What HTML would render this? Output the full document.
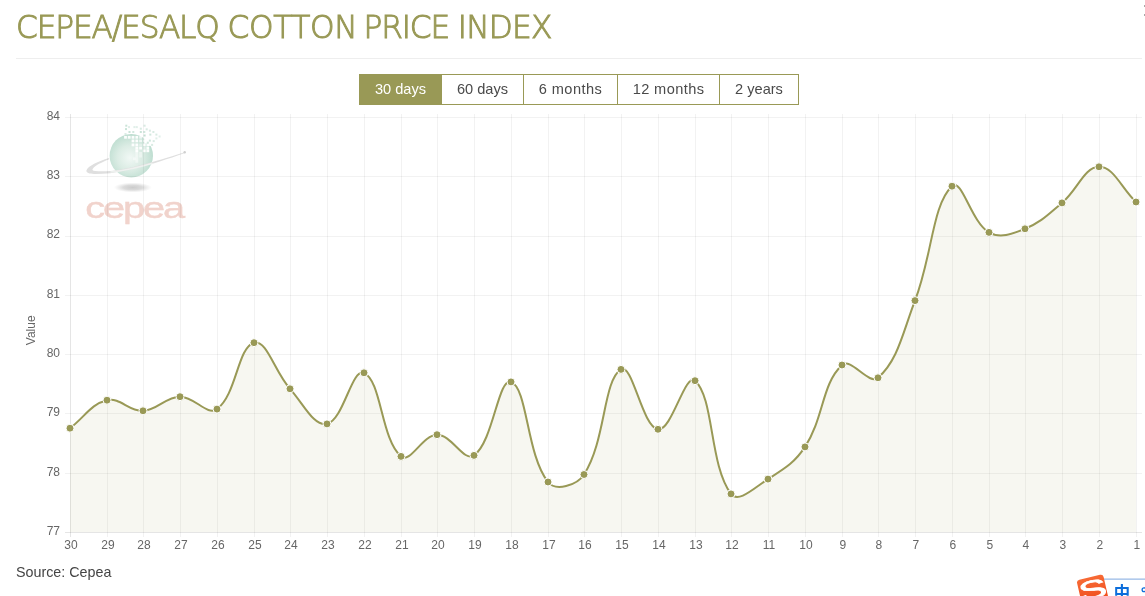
<!DOCTYPE html>
<html lang="en">
<head>
<meta charset="utf-8">
<title>CEPEA/ESALQ Cotton Price Index</title>
<style>
html,body{margin:0;padding:0;background:#fff;}
body{width:1145px;height:596px;position:relative;overflow:hidden;font-family:"Liberation Sans",Arial,sans-serif;color:#444;}
h1{position:absolute;left:16px;word-spacing:0px;top:5.5px;margin:0;font-family:"DejaVu Sans Light","DejaVu Sans","Liberation Sans",sans-serif;font-weight:200;font-size:32.6px;line-height:42px;color:#999956;-webkit-text-stroke:1px #999956;white-space:nowrap;letter-spacing:-1.2px;transform:scaleX(0.9585);transform-origin:0 0;}
hr{position:absolute;left:16px;top:58px;width:1126px;height:1px;border:0;margin:0;background:#eee;}
.tabs{position:absolute;left:359px;top:74px;height:31px;display:flex;box-sizing:border-box;}
.tabs a{display:block;box-sizing:border-box;height:31px;line-height:28px;border:1px solid #999956;border-left-width:0;text-align:center;font-size:14.6px;color:#4a4a4a;text-decoration:none;white-space:nowrap;}
.tabs a:first-child{border-left-width:1px;}
.tabs a.on{background:#999956;color:#fff;}
.chart{position:absolute;left:0;top:0;}
.src{position:absolute;left:16px;top:562px;font-size:14.3px;line-height:20px;color:#444;white-space:nowrap;}
.mark{position:absolute;background:#a8a8a8;width:2px;height:2px;left:1144px;}
</style>
</head>
<body>
<h1>CEPEA/ESALQ <span style="letter-spacing:-0.4px;margin-right:-2.6px">COTTON</span> PRICE <span style="letter-spacing:-0.8px">INDEX</span></h1>
<hr>
<div class="tabs"><a class="on" style="width:83px">30 days</a><a style="width:82px">60 days</a><a style="width:94px;letter-spacing:0.45px">6 months</a><a style="width:102px;letter-spacing:0.4px">12 months</a><a style="width:79px">2 years</a></div>
<svg class="chart" width="1145" height="596" viewBox="0 0 1145 596">
<g class="logo">
<defs><radialGradient id="sph" cx="0.47" cy="0.55" r="0.58"><stop offset="0" stop-color="#f1f8f5"/><stop offset="0.5" stop-color="#dbece4"/><stop offset="1" stop-color="#b9dbcd"/></radialGradient><radialGradient id="shd" cx="0.5" cy="0.5" r="0.5"><stop offset="0" stop-color="#9a9a9a" stop-opacity="0.52"/><stop offset="0.5" stop-color="#a4a4a4" stop-opacity="0.4"/><stop offset="1" stop-color="#bbb" stop-opacity="0"/></radialGradient></defs>
<circle cx="131.3" cy="155.7" r="21.7" fill="url(#sph)"/>
<rect x="140.5" y="132.2" width="3.9" height="3.9" fill="#fff"/><rect x="144.3" y="132.2" width="3.9" height="3.9" fill="#fff"/><rect x="144.3" y="136.0" width="3.9" height="3.9" fill="#fff"/><rect x="144.3" y="139.7" width="3.9" height="3.9" fill="#fff"/><rect x="148.0" y="132.2" width="3.9" height="3.9" fill="#fff"/><rect x="148.0" y="136.0" width="3.9" height="3.9" fill="#fff"/><rect x="148.0" y="139.7" width="3.9" height="3.9" fill="#fff"/><rect x="151.8" y="132.2" width="3.9" height="3.9" fill="#fff"/><rect x="151.8" y="136.0" width="3.9" height="3.9" fill="#fff"/><rect x="151.8" y="139.7" width="3.9" height="3.9" fill="#fff"/><rect x="148.0" y="143.0" width="3.9" height="3" fill="#fff" fill-opacity="0.8"/><rect x="124.1" y="135.9" width="2.8" height="2.8" fill="#fff" fill-opacity="0.95"/><rect x="127.8" y="135.9" width="2.8" height="2.8" fill="#fff" fill-opacity="0.95"/><rect x="131.6" y="135.9" width="2.8" height="2.8" fill="#fff" fill-opacity="0.95"/><rect x="135.4" y="135.9" width="2.8" height="2.8" fill="#fff" fill-opacity="0.95"/><rect x="131.6" y="139.5" width="2.8" height="2.8" fill="#fff" fill-opacity="0.95"/><rect x="135.4" y="139.5" width="2.8" height="2.8" fill="#fff" fill-opacity="0.95"/><rect x="131.6" y="143.5" width="2.8" height="2.8" fill="#fff" fill-opacity="0.95"/><rect x="135.4" y="143.5" width="2.8" height="2.8" fill="#fff" fill-opacity="0.95"/><rect x="142.9" y="143.5" width="2.8" height="2.8" fill="#fff" fill-opacity="0.95"/><rect x="146.4" y="143.5" width="2.8" height="2.8" fill="#fff" fill-opacity="0.95"/><rect x="135.4" y="146.7" width="2.8" height="2.8" fill="#fff" fill-opacity="0.95"/><rect x="139.2" y="146.7" width="2.8" height="2.8" fill="#fff" fill-opacity="0.95"/><rect x="146.4" y="146.7" width="2.8" height="2.8" fill="#fff" fill-opacity="0.95"/><rect x="135.4" y="149.4" width="2.8" height="2.8" fill="#fff" fill-opacity="0.95"/><rect x="142.9" y="149.4" width="2.8" height="2.8" fill="#fff" fill-opacity="0.95"/><rect x="146.4" y="149.4" width="2.8" height="2.8" fill="#fff" fill-opacity="0.95"/><rect x="135.4" y="152.0" width="2.8" height="2.8" fill="#fff" fill-opacity="0.45"/><rect x="139.2" y="152.0" width="2.8" height="2.8" fill="#fff" fill-opacity="0.45"/><rect x="135.4" y="154.7" width="2.8" height="2.8" fill="#fff" fill-opacity="0.45"/><rect x="139.2" y="154.7" width="2.8" height="2.8" fill="#fff" fill-opacity="0.45"/><rect x="133.0" y="157.4" width="2.8" height="2.8" fill="#fff" fill-opacity="0.45"/><rect x="135.4" y="157.4" width="2.8" height="2.8" fill="#fff" fill-opacity="0.45"/><rect x="135.4" y="159.9" width="2.8" height="2.8" fill="#fff" fill-opacity="0.45"/><rect x="142.9" y="146.7" width="2.8" height="2.8" fill="#fff" fill-opacity="0.45"/><rect x="139.2" y="143.5" width="2.8" height="2.8" fill="#fff" fill-opacity="0.45"/><rect x="142.9" y="135.9" width="2.8" height="2.8" fill="#fff" fill-opacity="0.75"/><rect x="146.4" y="135.9" width="2.8" height="2.8" fill="#fff" fill-opacity="0.75"/><rect x="142.9" y="139.5" width="2.8" height="2.8" fill="#fff" fill-opacity="0.75"/><rect x="146.4" y="139.5" width="2.8" height="2.8" fill="#fff" fill-opacity="0.75"/><rect x="149.1" y="142.4" width="2.8" height="2.8" fill="#fff" fill-opacity="0.75"/><rect x="149.1" y="138.6" width="2.8" height="2.8" fill="#fff" fill-opacity="0.75"/><rect x="139.2" y="135.9" width="2.8" height="2.8" fill="#fff" fill-opacity="0.75"/><rect x="139.2" y="139.5" width="2.8" height="2.8" fill="#fff" fill-opacity="0.75"/><rect x="125.3" y="124.7" width="2" height="2" fill="#b4d8c8" fill-opacity="0.70"/><rect x="128.0" y="126.1" width="2" height="2" fill="#b4d8c8" fill-opacity="0.40"/><rect x="125.0" y="128.1" width="2" height="2" fill="#b4d8c8" fill-opacity="0.70"/><rect x="128.5" y="131.0" width="2" height="2" fill="#b4d8c8" fill-opacity="0.70"/><rect x="132.3" y="131.0" width="2" height="2" fill="#b4d8c8" fill-opacity="0.60"/><rect x="133.4" y="126.1" width="2" height="2" fill="#b4d8c8" fill-opacity="0.40"/><rect x="135.8" y="126.1" width="2" height="2" fill="#b4d8c8" fill-opacity="0.40"/><rect x="139.8" y="127.7" width="2" height="2" fill="#b4d8c8" fill-opacity="0.50"/><rect x="139.8" y="131.0" width="2" height="2" fill="#b4d8c8" fill-opacity="0.70"/><rect x="143.6" y="124.7" width="2" height="2" fill="#b4d8c8" fill-opacity="0.50"/><rect x="143.3" y="131.0" width="2" height="2" fill="#b4d8c8" fill-opacity="0.60"/><rect x="145.7" y="128.3" width="2" height="2" fill="#b4d8c8" fill-opacity="0.50"/><rect x="143.6" y="134.5" width="2" height="2" fill="#b4d8c8" fill-opacity="0.80"/><rect x="148.9" y="129.7" width="2" height="2" fill="#b4d8c8" fill-opacity="0.50"/><rect x="149.3" y="133.6" width="2" height="2" fill="#b4d8c8" fill-opacity="0.60"/><rect x="152.4" y="131.0" width="2" height="2" fill="#b4d8c8" fill-opacity="0.50"/><rect x="155.4" y="133.6" width="2" height="2" fill="#b4d8c8" fill-opacity="0.50"/><rect x="158.6" y="135.5" width="2" height="2" fill="#b4d8c8" fill-opacity="0.40"/><rect x="155.4" y="137.4" width="2" height="2" fill="#b4d8c8" fill-opacity="0.40"/><rect x="148.9" y="139.6" width="2" height="2" fill="#b4d8c8" fill-opacity="0.60"/><rect x="152.7" y="140.1" width="2" height="2" fill="#b4d8c8" fill-opacity="0.50"/><rect x="146.8" y="141.7" width="2" height="2" fill="#b4d8c8" fill-opacity="0.60"/><rect x="151.1" y="143.9" width="2" height="2" fill="#b4d8c8" fill-opacity="0.50"/><rect x="124.5" y="133.1" width="2" height="2" fill="#b4d8c8" fill-opacity="0.50"/>
<path d="M109.1 158.1 C98 161.5 88 166 86.4 170.6 C86 173 90 174.2 95.1 174 C100 174 105 173.7 110.2 173.2 C125 171.5 150 165.5 184.8 153 L184.5 152.2 C150 163.5 125 169.5 110.2 171 C105 171.4 99 171.4 95.1 171 C92.5 170.6 92 169.8 92.8 168.7 C95 165.5 102 162 109.3 159.2 Z" fill="#dfdfdf"/>
<path d="M110.5 172 C125 170.4 138 167.6 152.6 163.2" fill="none" stroke="#f1f5f3" stroke-width="1.5" stroke-opacity="0.8"/>
<circle cx="184.7" cy="152.3" r="1.2" fill="#cfcfcf"/>
<ellipse cx="132.8" cy="187.5" rx="19" ry="5" fill="url(#shd)"/>
<text transform="translate(85.2 218.0) scale(1.345 1)" letter-spacing="-1.6" font-family="'Liberation Sans', Arial, sans-serif" font-size="29.6" fill="#f1d3cc" stroke="#f1d3cc" stroke-width="0.4">cepea</text>
</g>
<g shape-rendering="crispEdges"><path d="M65 532.5H1142" stroke="rgba(0,0,0,0.1)" stroke-width="1"/><path d="M65 473.5H1142" stroke="rgba(0,0,0,0.05)" stroke-width="1"/><path d="M65 413.5H1142" stroke="rgba(0,0,0,0.05)" stroke-width="1"/><path d="M65 354.5H1142" stroke="rgba(0,0,0,0.05)" stroke-width="1"/><path d="M65 295.5H1142" stroke="rgba(0,0,0,0.05)" stroke-width="1"/><path d="M65 236.5H1142" stroke="rgba(0,0,0,0.05)" stroke-width="1"/><path d="M65 176.5H1142" stroke="rgba(0,0,0,0.05)" stroke-width="1"/><path d="M65 117.5H1142" stroke="rgba(0,0,0,0.05)" stroke-width="1"/><path d="M70.5 114V537" stroke="rgba(0,0,0,0.1)" stroke-width="1"/><path d="M107.5 114V537" stroke="rgba(0,0,0,0.05)" stroke-width="1"/><path d="M143.5 114V537" stroke="rgba(0,0,0,0.05)" stroke-width="1"/><path d="M180.5 114V537" stroke="rgba(0,0,0,0.05)" stroke-width="1"/><path d="M217.5 114V537" stroke="rgba(0,0,0,0.05)" stroke-width="1"/><path d="M254.5 114V537" stroke="rgba(0,0,0,0.05)" stroke-width="1"/><path d="M290.5 114V537" stroke="rgba(0,0,0,0.05)" stroke-width="1"/><path d="M327.5 114V537" stroke="rgba(0,0,0,0.05)" stroke-width="1"/><path d="M364.5 114V537" stroke="rgba(0,0,0,0.05)" stroke-width="1"/><path d="M401.5 114V537" stroke="rgba(0,0,0,0.05)" stroke-width="1"/><path d="M437.5 114V537" stroke="rgba(0,0,0,0.05)" stroke-width="1"/><path d="M474.5 114V537" stroke="rgba(0,0,0,0.05)" stroke-width="1"/><path d="M511.5 114V537" stroke="rgba(0,0,0,0.05)" stroke-width="1"/><path d="M548.5 114V537" stroke="rgba(0,0,0,0.05)" stroke-width="1"/><path d="M584.5 114V537" stroke="rgba(0,0,0,0.05)" stroke-width="1"/><path d="M621.5 114V537" stroke="rgba(0,0,0,0.05)" stroke-width="1"/><path d="M658.5 114V537" stroke="rgba(0,0,0,0.05)" stroke-width="1"/><path d="M695.5 114V537" stroke="rgba(0,0,0,0.05)" stroke-width="1"/><path d="M731.5 114V537" stroke="rgba(0,0,0,0.05)" stroke-width="1"/><path d="M768.5 114V537" stroke="rgba(0,0,0,0.05)" stroke-width="1"/><path d="M805.5 114V537" stroke="rgba(0,0,0,0.05)" stroke-width="1"/><path d="M842.5 114V537" stroke="rgba(0,0,0,0.05)" stroke-width="1"/><path d="M878.5 114V537" stroke="rgba(0,0,0,0.05)" stroke-width="1"/><path d="M915.5 114V537" stroke="rgba(0,0,0,0.05)" stroke-width="1"/><path d="M952.5 114V537" stroke="rgba(0,0,0,0.05)" stroke-width="1"/><path d="M989.5 114V537" stroke="rgba(0,0,0,0.05)" stroke-width="1"/><path d="M1025.5 114V537" stroke="rgba(0,0,0,0.05)" stroke-width="1"/><path d="M1062.5 114V537" stroke="rgba(0,0,0,0.05)" stroke-width="1"/><path d="M1099.5 114V537" stroke="rgba(0,0,0,0.05)" stroke-width="1"/><path d="M1136.5 114V537" stroke="rgba(0,0,0,0.05)" stroke-width="1"/></g>
<g font-family="'Liberation Sans', Arial, sans-serif" font-size="12" fill="#666"><text x="60" y="534.8" text-anchor="end">77</text><text x="60" y="475.5" text-anchor="end">78</text><text x="60" y="416.2" text-anchor="end">79</text><text x="60" y="356.9" text-anchor="end">80</text><text x="60" y="297.7" text-anchor="end">81</text><text x="60" y="238.4" text-anchor="end">82</text><text x="60" y="179.1" text-anchor="end">83</text><text x="60" y="119.8" text-anchor="end">84</text><text x="70.9" y="549" text-anchor="middle">30</text><text x="107.9" y="549" text-anchor="middle">29</text><text x="143.9" y="549" text-anchor="middle">28</text><text x="180.9" y="549" text-anchor="middle">27</text><text x="217.9" y="549" text-anchor="middle">26</text><text x="254.9" y="549" text-anchor="middle">25</text><text x="290.9" y="549" text-anchor="middle">24</text><text x="327.9" y="549" text-anchor="middle">23</text><text x="364.9" y="549" text-anchor="middle">22</text><text x="401.9" y="549" text-anchor="middle">21</text><text x="437.9" y="549" text-anchor="middle">20</text><text x="474.9" y="549" text-anchor="middle">19</text><text x="511.9" y="549" text-anchor="middle">18</text><text x="548.9" y="549" text-anchor="middle">17</text><text x="584.9" y="549" text-anchor="middle">16</text><text x="621.9" y="549" text-anchor="middle">15</text><text x="658.9" y="549" text-anchor="middle">14</text><text x="695.9" y="549" text-anchor="middle">13</text><text x="731.9" y="549" text-anchor="middle">12</text><text x="768.9" y="549" text-anchor="middle">11</text><text x="805.9" y="549" text-anchor="middle">10</text><text x="842.9" y="549" text-anchor="middle">9</text><text x="878.9" y="549" text-anchor="middle">8</text><text x="915.9" y="549" text-anchor="middle">7</text><text x="952.9" y="549" text-anchor="middle">6</text><text x="989.9" y="549" text-anchor="middle">5</text><text x="1025.9" y="549" text-anchor="middle">4</text><text x="1062.9" y="549" text-anchor="middle">3</text><text x="1099.9" y="549" text-anchor="middle">2</text><text x="1136.9" y="549" text-anchor="middle">1</text><text transform="translate(35.2 330.3) rotate(-90)" text-anchor="middle">Value</text></g>
<path d="M70.0 428.2 C84.8 417.0 90.9 404.0 107.0 400.2 C120.1 397.1 128.8 411.5 143.0 410.8 C158.0 410.1 165.1 397.0 180.0 396.7 C194.7 396.4 207.0 416.4 217.0 409.1 C236.6 394.8 237.5 347.3 254.0 342.7 C266.7 339.2 274.4 371.4 290.0 388.8 C303.6 403.9 313.8 426.8 327.0 423.9 C343.4 420.4 351.9 367.5 364.0 372.8 C381.5 380.5 381.0 439.4 401.0 456.4 C410.2 464.2 422.5 434.9 437.0 434.7 C451.7 434.5 463.9 462.6 474.0 455.4 C493.5 441.5 498.1 377.3 511.0 381.9 C527.7 387.9 526.3 454.5 548.0 482.0 C555.5 491.5 576.8 485.7 584.0 474.5 C606.0 440.6 602.9 380.5 621.0 369.4 C632.5 362.4 642.2 426.9 658.0 429.3 C671.8 431.4 685.1 371.9 695.0 380.7 C714.3 397.8 709.1 464.4 731.0 493.9 C738.3 503.8 754.7 487.5 768.0 479.1 C784.3 468.7 794.5 463.0 805.0 446.9 C824.1 417.4 821.5 384.4 842.0 365.0 C850.7 356.8 869.0 385.7 878.0 377.8 C898.2 360.0 902.7 332.5 915.0 300.6 C932.3 255.8 932.2 204.5 952.0 186.2 C961.8 177.2 970.9 221.8 989.0 232.4 C1000.1 238.9 1012.0 234.0 1025.0 228.8 C1041.2 222.2 1048.2 214.5 1062.0 202.9 C1077.8 189.7 1084.1 167.0 1099.0 166.8 C1113.7 166.6 1121.2 187.9 1136.0 202.0 L1136.0 532.0 L70.0 532.0 Z" fill="rgba(153,153,86,0.082)"/>
<path d="M70.0 428.2 C84.8 417.0 90.9 404.0 107.0 400.2 C120.1 397.1 128.8 411.5 143.0 410.8 C158.0 410.1 165.1 397.0 180.0 396.7 C194.7 396.4 207.0 416.4 217.0 409.1 C236.6 394.8 237.5 347.3 254.0 342.7 C266.7 339.2 274.4 371.4 290.0 388.8 C303.6 403.9 313.8 426.8 327.0 423.9 C343.4 420.4 351.9 367.5 364.0 372.8 C381.5 380.5 381.0 439.4 401.0 456.4 C410.2 464.2 422.5 434.9 437.0 434.7 C451.7 434.5 463.9 462.6 474.0 455.4 C493.5 441.5 498.1 377.3 511.0 381.9 C527.7 387.9 526.3 454.5 548.0 482.0 C555.5 491.5 576.8 485.7 584.0 474.5 C606.0 440.6 602.9 380.5 621.0 369.4 C632.5 362.4 642.2 426.9 658.0 429.3 C671.8 431.4 685.1 371.9 695.0 380.7 C714.3 397.8 709.1 464.4 731.0 493.9 C738.3 503.8 754.7 487.5 768.0 479.1 C784.3 468.7 794.5 463.0 805.0 446.9 C824.1 417.4 821.5 384.4 842.0 365.0 C850.7 356.8 869.0 385.7 878.0 377.8 C898.2 360.0 902.7 332.5 915.0 300.6 C932.3 255.8 932.2 204.5 952.0 186.2 C961.8 177.2 970.9 221.8 989.0 232.4 C1000.1 238.9 1012.0 234.0 1025.0 228.8 C1041.2 222.2 1048.2 214.5 1062.0 202.9 C1077.8 189.7 1084.1 167.0 1099.0 166.8 C1113.7 166.6 1121.2 187.9 1136.0 202.0" fill="none" stroke="#999956" stroke-width="2"/>
<g fill="#999956" stroke="#fff" stroke-width="1"><circle cx="70.0" cy="428.2" r="4"/><circle cx="107.0" cy="400.2" r="4"/><circle cx="143.0" cy="410.8" r="4"/><circle cx="180.0" cy="396.7" r="4"/><circle cx="217.0" cy="409.1" r="4"/><circle cx="254.0" cy="342.7" r="4"/><circle cx="290.0" cy="388.8" r="4"/><circle cx="327.0" cy="423.9" r="4"/><circle cx="364.0" cy="372.8" r="4"/><circle cx="401.0" cy="456.4" r="4"/><circle cx="437.0" cy="434.7" r="4"/><circle cx="474.0" cy="455.4" r="4"/><circle cx="511.0" cy="381.9" r="4"/><circle cx="548.0" cy="482.0" r="4"/><circle cx="584.0" cy="474.5" r="4"/><circle cx="621.0" cy="369.4" r="4"/><circle cx="658.0" cy="429.3" r="4"/><circle cx="695.0" cy="380.7" r="4"/><circle cx="731.0" cy="493.9" r="4"/><circle cx="768.0" cy="479.1" r="4"/><circle cx="805.0" cy="446.9" r="4"/><circle cx="842.0" cy="365.0" r="4"/><circle cx="878.0" cy="377.8" r="4"/><circle cx="915.0" cy="300.6" r="4"/><circle cx="952.0" cy="186.2" r="4"/><circle cx="989.0" cy="232.4" r="4"/><circle cx="1025.0" cy="228.8" r="4"/><circle cx="1062.0" cy="202.9" r="4"/><circle cx="1099.0" cy="166.8" r="4"/><circle cx="1136.0" cy="202.0" r="4"/></g>
</svg>
<div class="src">Source: Cepea</div>
<i class="mark" style="top:5px"></i><i class="mark" style="top:14px"></i>
<svg class="ime" width="85" height="36" viewBox="1060 560 85 36" style="position:absolute;left:1060px;top:560px">
<defs><linearGradient id="sg" x1="0" y1="0" x2="0" y2="1"><stop offset="0" stop-color="#f76a35"/><stop offset="1" stop-color="#ef4a1a"/></linearGradient></defs>
<rect x="1103" y="578.6" width="43" height="1" fill="#7fa7df"/>
<g transform="rotate(-13 1092.8 590.7)">
<rect x="1079.2" y="576.9" width="27.2" height="27" rx="3" ry="3" fill="url(#sg)"/>
<text transform="translate(1093 598.6) scale(1.62 1)" text-anchor="middle" font-family="'Liberation Sans', Arial, sans-serif" font-weight="400" font-size="26" fill="#fff" stroke="#fff" stroke-width="0.7">S</text>
</g>
<text transform="translate(1122 598.3) scale(1 1)" text-anchor="middle" font-family="'Liberation Sans', 'Noto Sans CJK SC', sans-serif" font-weight="700" font-size="16.4" fill="#0d6edb">中</text>
<circle cx="1144" cy="589.7" r="1.9" fill="none" stroke="#0d6edb" stroke-width="1.3"/>
</svg>

</body>
</html>
